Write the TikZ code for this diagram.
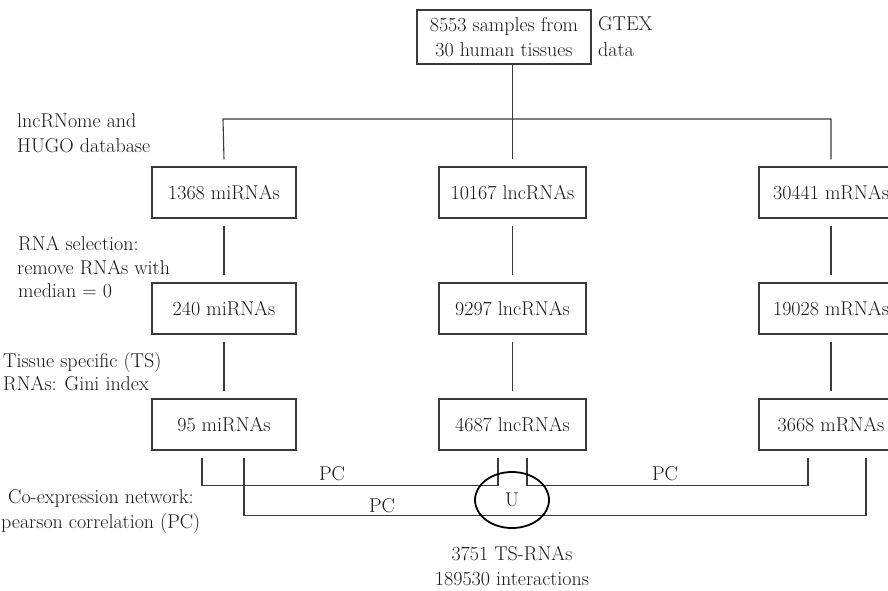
\documentclass[tikz,border=0pt]{standalone}
\usetikzlibrary{calc,shapes.geometric}
\definecolor{ink}{HTML}{1A1718}
\definecolor{wire}{HTML}{3A3A3A}
\begin{document}
\begin{tikzpicture}[x=1pt,y=-1pt,
  every node/.style={text=ink,font=\fontsize{20}{25}\selectfont},
  rnabox/.style={draw=wire,line width=1.1pt,minimum width=144pt,minimum height=51pt,inner sep=0pt,anchor=center},
  lab/.style={anchor=base west,inner sep=0pt},
  wirel/.style={draw=wire,line width=1.1pt}]
\useasboundingbox (0,0) rectangle (888,590);
% top box
\node[draw=wire,line width=1.1pt,minimum width=174pt,minimum height=54pt,inner sep=0pt,align=center] (top) at (504,37)
  {8553 samples from\\30 human tissues};
\node[lab] (gtex) at (598,30) {GTEX};
\node[lab] (gdata) at (598,56) {data};
% rows
\node[rnabox] (a1) at (224,192.5) {1368 miRNAs};
\node[rnabox,minimum width=147pt] (b1) at (512.5,192.5) {10167 lncRNAs};
\node[rnabox] (c1) at (831,192.5) {30441 mRNAs};
\node[rnabox] (a2) at (224,308.5) {240 miRNAs};
\node[rnabox,minimum width=147pt] (b2) at (512.5,308.5) {9297 lncRNAs};
\node[rnabox] (c2) at (831,308.5) {19028 mRNAs};
\node[rnabox] (a3) at (224,424.5) {95 miRNAs};
\node[rnabox,minimum width=147pt] (b3) at (512.5,424.5) {4687 lncRNAs};
\node[rnabox] (c3) at (831,424.5) {3668 mRNAs};
% left labels
\node[lab] (l1a) at (17,127) {lncRNome and};
\node[lab] (l1b) at (17,152) {HUGO database};
\node[lab] (l2a) at (18,250) {RNA selection:};
\node[lab] (l2b) at (17,274) {remove RNAs with};
\node[lab] (l2c) at (18,297) {median = 0};
\node[lab] (l3a) at (3,367) {Tissue specific (TS)};
\node[lab] (l3b) at (3,390) {RNAs: Gini index};
\node[lab] (l4a) at (8,503) {Co-expression network:};
\node[lab] (l4b) at (1,528) {pearson correlation (PC)};
% tree from top box
\coordinate (hl) at (223,119);
\coordinate (hr) at (831,119);
\draw[wirel] (top.south -| b1) -- ($(b1.north)+(0,-7)$);
\draw[wirel] ($(a1.north)+(0,-7)$) -- (hl) -- (hr) -- ($(c1.north)+(0,-7)$);
% verticals between rows
\foreach \u/\v in {a1/a2,a2/a3,b1/b2,b2/b3,c1/c2,c2/c3}{
  \draw[wirel] ($(\u.south)+(0,7)$) -- ($(\v.north)+(0,-7)$);
}
% co-expression connectors
\coordinate (p1) at ($(a3.south)+(-22,7)$);
\coordinate (p2) at ($(a3.south)+(20,7)$);
\coordinate (q1) at ($(b3.south)+(-14.5,7)$);
\coordinate (q2) at ($(b3.south)+(14.5,7)$);
\coordinate (r1) at ($(c3.south)+(-23,7)$);
\coordinate (r2) at ($(c3.south)+(35,7)$);
\draw[wirel] (p1) -- ++(0,28) -| (q1);
\draw[wirel] (q2) -- ++(0,28) -| (r1);
\draw[wirel] (p2) -- ++(0,58) -| (r2);
\node[draw=black,line width=1.8pt,ellipse,minimum width=74pt,minimum height=56pt,inner sep=0pt] (u) at (512,500) {U};
\node[anchor=base,inner sep=0pt] (pc1) at (332,480) {PC};
\node[anchor=base,inner sep=0pt] (pc2) at (382,512) {PC};
\node[anchor=base,inner sep=0pt] (pc3) at (665,480) {PC};
\node[anchor=base,inner sep=0pt] (res1) at (512,560) {3751 TS-RNAs};
\node[anchor=base,inner sep=0pt] (res2) at (512,585) {189530 interactions};
\end{tikzpicture}
\end{document}
